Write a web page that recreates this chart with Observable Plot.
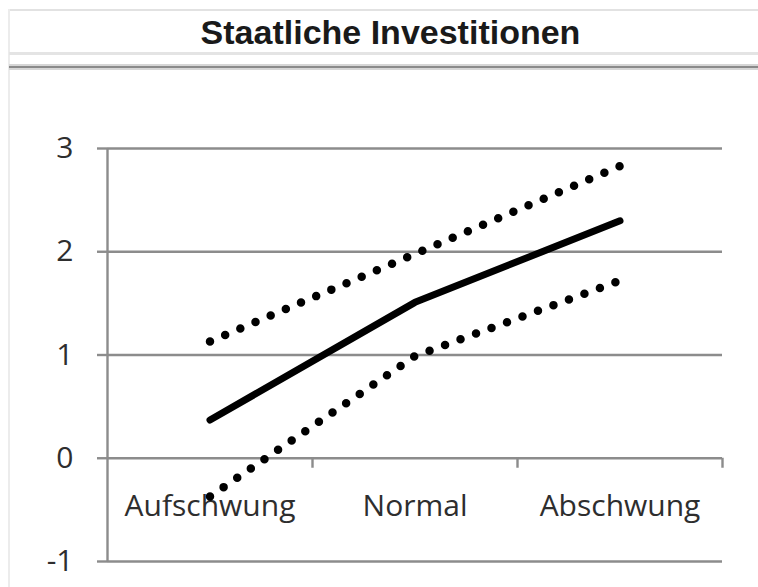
<!DOCTYPE html>
<html>
<head>
<meta charset="utf-8">
<script src="https://cdn.jsdelivr.net/npm/d3@7"></script>
<script src="https://cdn.jsdelivr.net/npm/@observablehq/plot@0.6"></script>
<style>
  html, body { margin: 0; padding: 0; background: #fff; }
  #wrap { position: relative; width: 758px; height: 587px; overflow: hidden; background: #fff; }
  .hl { position: absolute; left: 9px; right: 0; }
  #title { position: absolute; left: 9px; right: 0; top: 12px; height: 40px; text-align: center;
           font-family: "Liberation Sans", Arial, sans-serif; font-weight: bold; font-size: 34px;
           line-height: 40px; color: #1a1a1a; padding-left: 14px; box-sizing: border-box; }
  #chart { position: absolute; left: 0; top: 0; }
</style>
</head>
<body>
<div id="wrap">
  <div class="hl" style="top:9px;height:2px;background:#e2e2e2"></div>
  <div style="position:absolute;left:8px;top:9px;width:2px;bottom:0;background:#ececec"></div>
  <div id="title">Staatliche Investitionen</div>
  <div class="hl" style="top:52px;height:3px;background:#e4e4e4"></div>
  <div class="hl" style="top:64px;height:6px;background:#d6d6d6"></div>
  <div class="hl" style="top:66px;height:2px;background:#8a8a8a"></div>
  <div id="chart"></div>
</div>
<script>
const categories = ["Aufschwung", "Normal", "Abschwung"];
const mittel = [0.37, 1.51, 2.30];
const oben   = [1.13, 1.98, 2.83];
const unten  = [-0.37, 0.99, 1.72];
const yTicks = [-1, 0, 1, 2, 3];

const idx = categories.map((c, i) => i);
const rows = (vals) => idx.map(i => ({i, v: vals[i]}));
const bounds = d3.range(-0.5, categories.length, 1);

const gridColor = "#8c8c8c";
const labelFont = "'Open Sans', sans-serif";
const labelColor = "#2e2e2e";

const chart = Plot.plot({
  width: 758,
  height: 587,
  marginTop: 148,
  marginBottom: 26,
  marginLeft: 107,
  marginRight: 36,
  style: {background: "transparent", fontFamily: labelFont},
  x: {type: "linear", domain: [-0.5, categories.length - 0.5], axis: null},
  y: {domain: [yTicks[0], yTicks[yTicks.length - 1]], axis: null},
  marks: [
    Plot.gridY(yTicks, {stroke: gridColor, strokeOpacity: 1, strokeWidth: 2.4}),
    Plot.axisY(yTicks, {
      tickSize: 10, tickPadding: 24, stroke: gridColor, strokeWidth: 2.4,
      fontSize: 30, fill: labelColor, tickFormat: d => d3.format("d")(d).replace("−", "-"),
      label: null
    }),
    Plot.ruleX([bounds[0]], {y1: yTicks[0], y2: yTicks[yTicks.length - 1], stroke: gridColor, strokeWidth: 2.4}),
    Plot.ruleX(bounds.slice(1), {y1: 0, y2: 0, insetBottom: -10, stroke: gridColor, strokeWidth: 2.4}),
    Plot.text(idx, {x: d => d, y: () => 0, text: d => categories[d], dy: 48,
      fontSize: 30, fill: labelColor, fontFamily: labelFont}),
    Plot.line(rows(oben), {x: "i", y: "v", stroke: "#000", strokeWidth: 8.5, strokeDasharray: "0 16.5", strokeLinecap: "round"}),
    Plot.line(rows(unten), {x: "i", y: "v", stroke: "#000", strokeWidth: 8.5, strokeDasharray: "0 16.5", strokeLinecap: "round"}),
    Plot.line(rows(mittel), {x: "i", y: "v", stroke: "#000", strokeWidth: 7, strokeLinecap: "round"})
  ]
});
document.getElementById("chart").appendChild(chart);
</script>
</body>
</html>
